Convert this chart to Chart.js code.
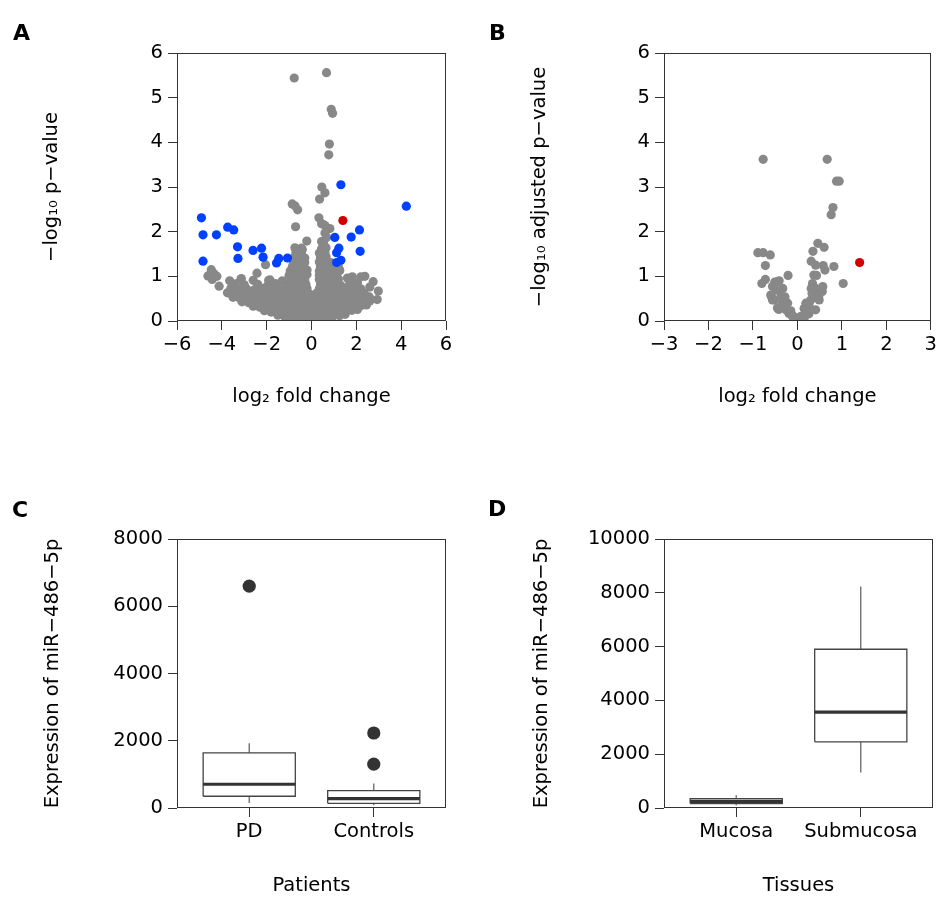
<!DOCTYPE html>
<html><head><meta charset="utf-8">
<script src="https://cdn.jsdelivr.net/npm/chart.js@4.4.1/dist/chart.umd.min.js"></script>
<style>
html,body{margin:0;padding:0;background:#fff;}
#wrap{position:relative;width:940px;height:908px;overflow:hidden;background:#fff;}
canvas{position:absolute;}
.lbl{position:absolute;font:bold 22px "DejaVu Sans";line-height:22px;color:#000;}
</style></head><body>
<div id="wrap">
<canvas id="cA" width="470" height="450" style="left:0;top:0"></canvas>
<canvas id="cB" width="470" height="450" style="left:470px;top:0"></canvas>
<canvas id="cC" width="470" height="458" style="left:0;top:450px"></canvas>
<canvas id="cD" width="470" height="458" style="left:470px;top:450px"></canvas>
<div class="lbl" style="left:13px;top:22px">A</div>
<div class="lbl" style="left:489px;top:22px">B</div>
<div class="lbl" style="left:12px;top:499px">C</div>
<div class="lbl" style="left:488px;top:498px">D</div>
</div>
<script>
// ---------- Panel A: volcano plot (log2 fold change vs -log10 p-value) ----------
const grayA = [
 [-0.9,0.04],[-0.6,0.03],[-0.3,0.02],[0.0,0.03],[0.3,0.02],[0.6,0.04],[0.9,0.05],
 [-1.5,0.13],[-1.2,0.1],[-0.9,0.12],[-0.6,0.11],[-0.3,0.12],[0.05,0.1],[0.35,0.12],[0.65,0.11],[0.95,0.13],[1.25,0.12],[1.5,0.15],
 [-2.1,0.23],[-1.8,0.2],[-1.5,0.22],[-1.2,0.21],[-0.9,0.23],[-0.6,0.22],[-0.3,0.21],[0.0,0.22],[0.3,0.23],[0.6,0.21],[0.9,0.22],[1.2,0.23],[1.5,0.21],[1.8,0.24],[2.05,0.26],
 [-2.6,0.33],[-2.3,0.31],[-2.0,0.32],[-1.7,0.3],[-1.4,0.33],[-1.1,0.31],[-0.8,0.32],[-0.5,0.33],[-0.2,0.31],[0.1,0.32],[0.4,0.33],[0.7,0.31],[1.0,0.32],[1.3,0.33],[1.6,0.31],[1.9,0.32],[2.2,0.34],[2.45,0.36],
 [-3.1,0.43],[-2.8,0.41],[-2.5,0.42],[-2.2,0.4],[-1.9,0.43],[-1.6,0.41],[-1.3,0.42],[-1.0,0.43],[-0.7,0.41],[-0.4,0.42],[-0.1,0.43],[0.2,0.41],[0.5,0.42],[0.8,0.43],[1.1,0.41],[1.4,0.42],[1.7,0.43],[2.0,0.41],[2.3,0.43],[2.6,0.45],
 [-3.5,0.53],[-3.2,0.51],[-2.9,0.52],[-2.6,0.5],[-2.3,0.53],[-2.0,0.52],[-1.7,0.51],[-1.4,0.53],[-1.1,0.52],[-0.8,0.51],[-0.5,0.53],[-0.2,0.52],[0.1,0.51],[0.4,0.53],[0.7,0.52],[1.0,0.51],[1.3,0.53],[1.6,0.52],[1.9,0.51],[2.2,0.53],[2.5,0.54],
 [-3.75,0.63],[-3.4,0.61],[-3.1,0.62],[-2.8,0.6],[-2.5,0.63],[-2.2,0.62],[-1.9,0.61],[-1.6,0.63],[-1.3,0.62],[-1.0,0.61],[-0.7,0.63],[-0.4,0.62],[-0.1,0.61],[0.25,0.63],[0.55,0.62],[0.85,0.61],[1.15,0.63],[1.45,0.62],[1.75,0.61],[2.05,0.63],[2.35,0.62],
 [-3.6,0.73],[-3.25,0.71],[-2.9,0.72],[-2.55,0.7],[-2.2,0.73],[-1.85,0.72],[-1.5,0.71],[-1.15,0.73],[-0.8,0.72],[-0.5,0.71],[-0.2,0.73],[0.35,0.72],[0.65,0.71],[0.95,0.73],[1.25,0.72],[1.55,0.71],[1.9,0.74],[2.2,0.72],
 [-3.4,0.83],[-3.0,0.81],[-2.4,0.82],[-1.95,0.8],[-1.6,0.84],[-1.2,0.82],[-0.85,0.81],[-0.55,0.83],[-0.25,0.82],[0.4,0.81],[0.7,0.83],[1.0,0.82],[1.3,0.8],[1.7,0.83],[2.05,0.85],
 [-3.15,0.93],[-2.6,0.91],[-1.85,0.92],[-1.3,0.9],[-0.9,0.93],[-0.6,0.92],[-0.3,0.91],[0.35,0.93],[0.6,0.92],[0.9,0.91],[1.2,0.94],[1.6,0.96],
 [-1.0,1.02],[-0.7,1.03],[-0.45,1.01],[-0.2,1.04],[0.35,1.02],[0.6,1.03],[0.85,1.01],[1.1,1.04],
 [-0.95,1.12],[-0.7,1.13],[-0.45,1.11],[-0.2,1.14],[0.35,1.12],[0.6,1.11],[0.9,1.13],[1.25,1.13],
 [-0.85,1.22],[-0.6,1.23],[-0.35,1.21],[0.4,1.22],[0.65,1.24],[0.9,1.21],[1.2,1.22],
 [-0.8,1.32],[-0.55,1.33],[-0.3,1.31],[0.35,1.32],[0.6,1.34],[0.85,1.31],
 [-0.75,1.42],[-0.5,1.43],[-0.3,1.41],[0.4,1.42],[0.65,1.44],
 [-0.7,1.52],[-0.45,1.53],[0.35,1.52],[0.6,1.54],
 [-0.7,1.62],[-0.45,1.63],[0.45,1.62],[0.65,1.64],[0.55,1.72],
 [-0.77,5.44],[0.67,5.56],[0.88,4.74],[0.94,4.65],[0.80,3.96],[0.77,3.72],[0.46,3.0],[0.60,2.87],[0.36,2.73],
 [-0.86,2.62],[-0.74,2.58],[-0.62,2.49],[0.33,2.31],[-0.71,2.11],[0.45,2.18],[0.60,2.14],[0.82,2.07],[0.60,1.97],
 [0.67,1.87],[-0.21,1.79],[0.45,1.78],[-0.74,1.64],[-0.41,1.60],[-2.05,1.26],
 [-4.47,1.15],[-4.35,1.06],[-4.62,1.01],[-4.22,1.0],[-4.43,0.93],[-4.12,0.78],[-3.65,0.90],[-3.13,0.95],[-2.43,1.07],[-1.91,0.91],
 [1.82,0.99],[2.2,0.99],[2.38,1.0],[2.75,0.88],[2.6,0.76],[2.98,0.67],[2.93,0.48],[2.58,0.54],[1.26,1.13],[1.1,1.2]
];
const blueA = [
 [1.31,3.05],[4.23,2.57],[-4.91,2.31],[-4.84,1.93],[-4.24,1.93],[-3.74,2.10],[-3.47,2.04],[-3.30,1.66],
 [-3.28,1.40],[-4.84,1.34],[-2.61,1.58],[-2.23,1.63],[-2.16,1.43],[-1.56,1.30],[-1.46,1.40],[-1.07,1.41],
 [1.04,1.87],[1.77,1.88],[2.14,2.04],[2.17,1.56],[1.22,1.63],[1.12,1.53],[1.31,1.36],[1.12,1.31]
];
const redA = [[1.40,2.25]];

// ---------- Panel B: volcano plot (log2 fold change vs -log10 adjusted p-value) ----------
const grayB = [
 [-0.77,3.62],[0.67,3.62],[0.88,3.13],[0.94,3.13],[0.80,2.54],[0.76,2.38],[0.46,1.74],[0.60,1.65],[0.35,1.56],
 [-0.89,1.53],[-0.77,1.53],[-0.61,1.48],[-0.72,1.24],[0.31,1.34],[0.41,1.25],[0.58,1.24],[0.62,1.14],[0.82,1.22],
 [-0.21,1.02],[0.43,1.02],[-0.72,0.93],[-0.80,0.84],[-0.51,0.87],[-0.41,0.90],[1.03,0.84],[0.34,0.84],[0.31,0.73],
 [0.57,0.77],[0.56,0.66],[0.49,0.47],[-0.58,0.54],[-0.56,0.47],[-0.48,0.69],[-0.33,0.73],[-0.28,0.54],[-0.22,0.40],
 [-0.42,0.26],[-0.33,0.32],[-0.15,0.23],[-0.11,0.13],[-0.04,0.06],[0.04,0.04],[0.19,0.40],[0.15,0.28],[0.22,0.21],
 [0.26,0.16],[0.34,0.62],[0.37,0.54],[0.30,0.47],[0.26,0.36],[0.11,0.11],[0.15,0.06],[-0.56,0.77],[-0.45,0.88],
 [-0.60,0.58],[-0.52,0.47],[-0.37,0.55],[-0.34,0.40],[-0.45,0.29],[-0.26,0.25],[-0.19,0.17],[-0.11,0.10],[0.07,0.10],
 [0.33,0.62],[0.41,0.73],[0.48,0.55],[0.37,1.03],[0.41,0.25]
];
const redB = [[1.40,1.31]];

// ---------- Panel C: boxplot by patients ----------
const groupsC = ['PD', 'Controls'];
const lowC = [150, 80];
const q1C = [349, 140];
const medC = [707, 280];
const q3C = [1642, 519];
const highC = [1922, 728];
const outC = [[6597], [2230, 1304]];

// ---------- Panel D: boxplot by tissues ----------
const groupsD = ['Mucosa', 'Submucosa'];
const lowD = [100, 1319];
const q1D = [164, 2459];
const medD = [250, 3566];
const q3D = [350, 5902];
const highD = [473, 8234];
const outD = [[], []];

const ticksA_x = [-6, -4, -2, 0, 2, 4, 6];
const ticksA_y = [0, 1, 2, 3, 4, 5, 6];
const ticksB_x = [-3, -2, -1, 0, 1, 2, 3];
const ticksC_y = [0, 2000, 4000, 6000, 8000];
const ticksD_y = [0, 2000, 4000, 6000, 8000, 10000];

// ---------- styling ----------
const GRAY = '#888888', BLUE = '#0040ff', RED = '#d00000', AXIS = '#333333', DARK = '#333333';
Chart.defaults.font.family = 'DejaVu Sans';
const tickFont = {family: 'DejaVu Sans', size: 19.5};
const titleFont = {family: 'DejaVu Sans', size: 19.5};
const fmt = v => (v < 0 ? '\u2212' : '') + Math.abs(v);

const framePlugin = {
  id: 'frame',
  afterDatasetsDraw(chart) {
    const {ctx, chartArea: a} = chart;
    ctx.save();
    ctx.strokeStyle = AXIS; ctx.lineWidth = 1;
    const l = Math.round(a.left) + 0.5, t = Math.round(a.top) + 0.5;
    const r = Math.round(a.right) - 0.5, b = Math.round(a.bottom) - 0.5;
    ctx.strokeRect(l, t, r - l, b - t);
    ctx.restore();
  }
};

function axis(opts) {
  const s = {
    type: 'linear',
    min: opts.min, max: opts.max,
    grid: {display: true, drawOnChartArea: false, drawTicks: true, tickLength: 9, color: AXIS, lineWidth: 1},
    border: {display: false},
    ticks: {font: tickFont, color: '#000', padding: opts.pad, maxRotation: 0, autoSkip: false,
            callback: opts.cb || (v => fmt(v))},
    title: {display: true, text: opts.title, font: titleFont, color: '#000', padding: opts.titlePad},
    afterBuildTicks: s2 => { s2.ticks = opts.ticks.map(v => ({value: v})); }
  };
  if (opts.w !== undefined) s.afterFit = sc => { sc.width = opts.w; };
  if (opts.h !== undefined) s.afterFit = sc => { sc.height = opts.h; };
  return s;
}

function pts(arr) { return arr.map(([x, y]) => ({x, y})); }

function baseOptions(padding, xs, ys) {
  return {
    responsive: false, animation: false, devicePixelRatio: 1, events: [],
    layout: {padding},
    plugins: {legend: {display: false}, tooltip: {enabled: false}},
    scales: {x: xs, y: ys}
  };
}

function volcano(id, gray, blue, red, xr, xticks, ytitle, yTitlePadTop, padRight, yw) {
  const datasets = [
    {data: pts(red), backgroundColor: RED, pointRadius: 4.6, pointBorderWidth: 0},
    {data: pts(blue), backgroundColor: BLUE, pointRadius: 4.6, pointBorderWidth: 0},
    {data: pts(gray), backgroundColor: GRAY, pointRadius: 4.6, pointBorderWidth: 0}
  ];
  new Chart(document.getElementById(id), {
    type: 'scatter',
    data: {datasets},
    options: baseOptions({left: 0, right: padRight, top: 53, bottom: 0},
      axis({min: xr[0], max: xr[1], ticks: xticks, pad: 3, title: 'log\u2082 fold change',
            titlePad: {top: 0, bottom: 41}, h: 129}),
      axis({min: 0, max: 6, ticks: ticksA_y, pad: 5, title: ytitle,
            titlePad: {top: yTitlePadTop, bottom: 0}, w: yw})),
    plugins: [framePlugin]
  });
}

const BW = 0.37;
function boxplot(id, groups, low, q1, med, q3, high, outs, ymax, yticks, xtitle, yTitlePadTop, padRight, yw) {
  const meds = [], boxes = [], whisk = [], outliers = [];
  groups.forEach((g, i) => {
    const c = i + 1;
    meds.push({data: [{x: c - BW, y: med[i]}, {x: c + BW, y: med[i]}], showLine: true,
      borderColor: DARK, borderWidth: 3.2, pointRadius: 0, borderCapStyle: 'butt'});
    boxes.push({data: [{x: c - BW, y: q1[i]}, {x: c + BW, y: q1[i]}, {x: c + BW, y: q3[i]},
      {x: c - BW, y: q3[i]}, {x: c - BW, y: q1[i]}], showLine: true, borderColor: '#444',
      borderWidth: 1.3, pointRadius: 0, borderJoinStyle: 'miter', backgroundColor: '#fff'});
    whisk.push({data: [{x: c, y: q3[i]}, {x: c, y: high[i]}], showLine: true,
      borderColor: '#666', borderWidth: 1.3, pointRadius: 0});
    whisk.push({data: [{x: c, y: q1[i]}, {x: c, y: low[i]}], showLine: true,
      borderColor: '#666', borderWidth: 1.3, pointRadius: 0});
    if (outs[i].length) outliers.push({data: outs[i].map(v => ({x: c, y: v})),
      backgroundColor: DARK, pointRadius: 6.6, pointBorderWidth: 0});
  });
  new Chart(document.getElementById(id), {
    type: 'scatter',
    data: {datasets: [...outliers, ...meds, ...boxes, ...whisk]},
    options: baseOptions({left: 0, right: padRight, top: 89, bottom: 0},
      axis({min: 0.42, max: 2.58, ticks: groups.map((g, i) => i + 1), pad: 3, title: xtitle,
            titlePad: {top: 0, bottom: 10}, h: 100, cb: v => groups[v - 1]}),
      axis({min: 0, max: ymax, ticks: yticks, pad: 5, title: 'Expression of miR\u2212486\u22125p',
            titlePad: {top: yTitlePadTop, bottom: 0}, w: yw, cb: v => String(v)})),
    plugins: [framePlugin]
  });
}

volcano('cA', grayA, blueA, redA, [-6, 6], ticksA_x, '\u2212log\u2081\u2080 p\u2212value', 40, 24, 177);
volcano('cB', grayB, [], redB, [-3, 3], ticksB_x, '\u2212log\u2081\u2080 adjusted p\u2212value', 58, 7, 194);
boxplot('cC', groupsC, lowC, q1C, medC, q3C, highC, outC, 8000, ticksC_y, 'Patients', 41, 24, 177);
boxplot('cD', groupsD, lowD, q1D, medD, q3D, highD, outD, 10000, ticksD_y, 'Tissues', 60, 7, 194);
</script>
</body></html>
